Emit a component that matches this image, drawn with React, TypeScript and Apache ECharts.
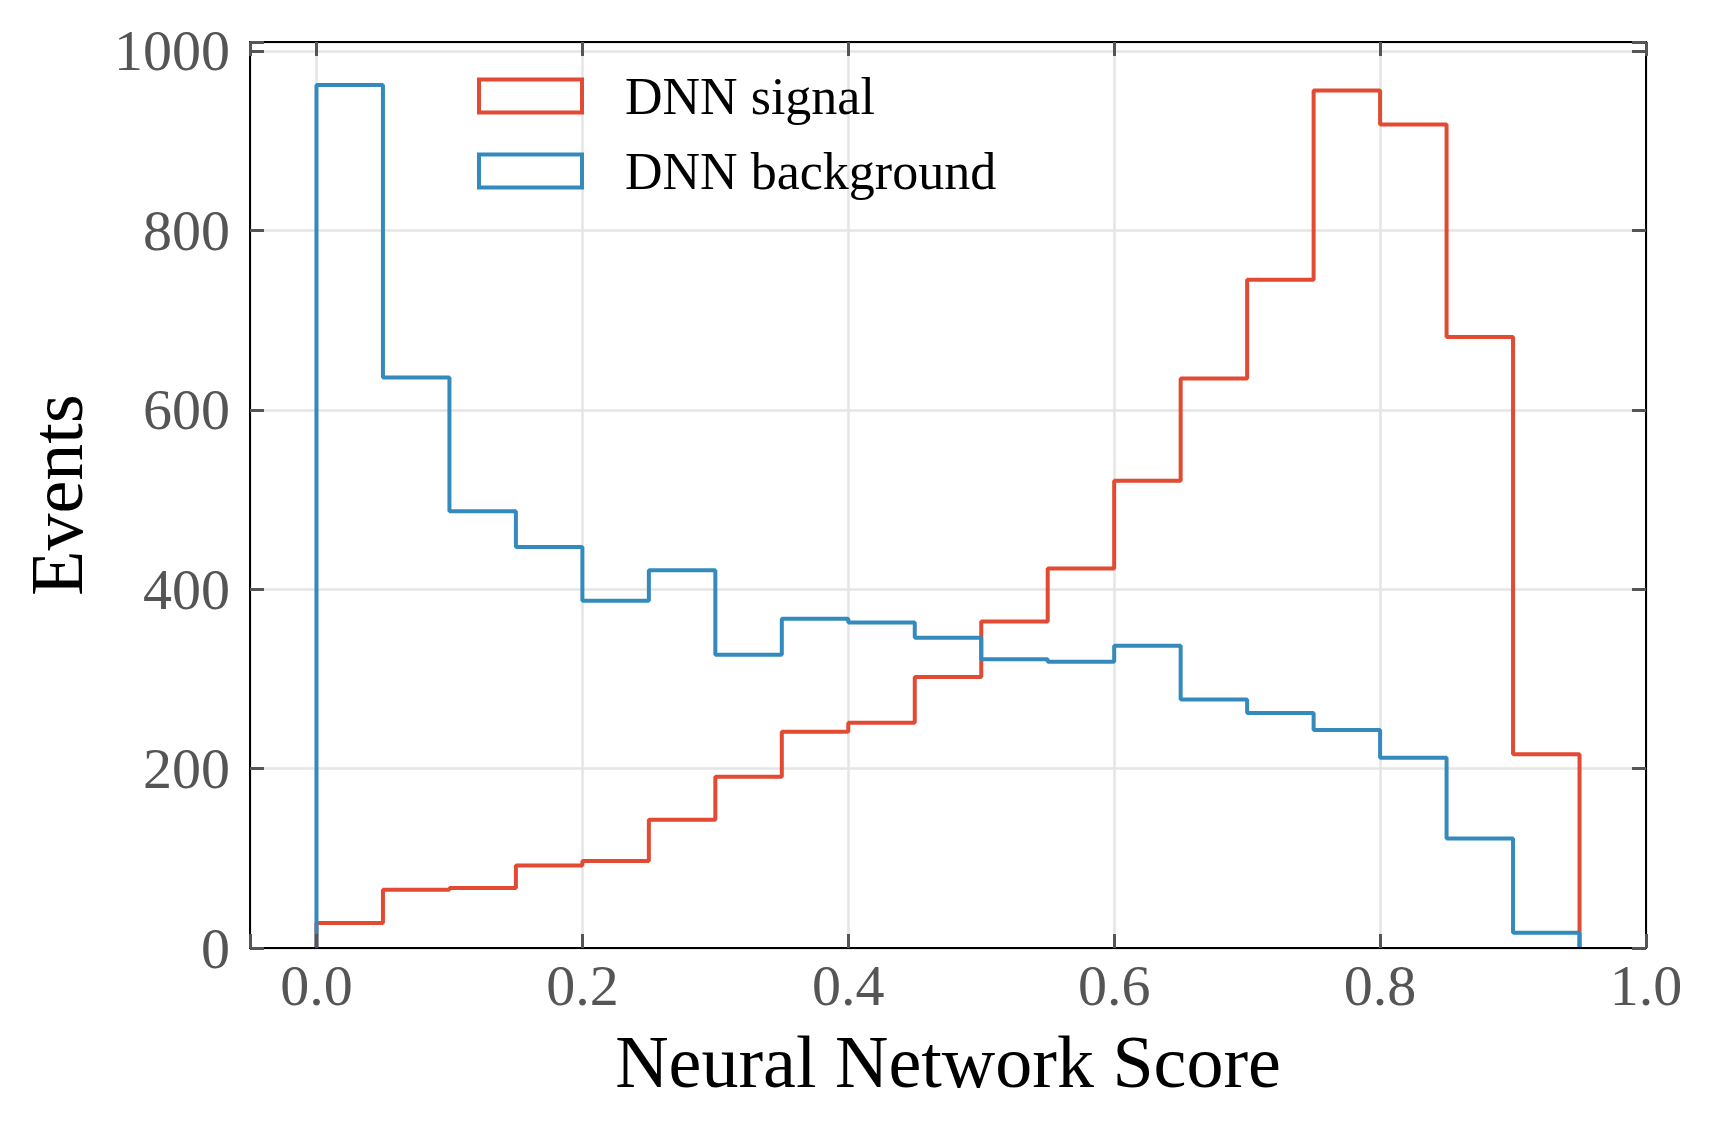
import React, { useEffect, useRef } from "react";
import * as echarts from "echarts";

const binEdges = [0.0, 0.05, 0.1, 0.15, 0.2, 0.25, 0.3, 0.35, 0.4, 0.45, 0.5, 0.55, 0.6, 0.65, 0.7, 0.75, 0.8, 0.85, 0.9, 0.95];
const signalCounts = [28, 65, 67, 92, 97, 143, 191, 241, 251, 302, 364, 423, 521, 635, 745, 956, 918, 681, 216];
const backgroundCounts = [962, 636, 487, 447, 387, 421, 327, 367, 363, 346, 322, 319, 337, 277, 262, 243, 212, 122, 17];
const seriesNames = ["DNN signal", "DNN background"];
const xTickLabels = ["0.0", "0.2", "0.4", "0.6", "0.8", "1.0"];
const yTickLabels = ["0", "200", "400", "600", "800", "1000"];

const RED = "#E24A33";
const BLUE = "#348ABD";
const FONT = "'Liberation Serif', 'Times New Roman', serif";

function stepPath(counts: number[]): number[][] {
  const pts: number[][] = [];
  const last = binEdges.length - 1;
  pts.push([binEdges[0], 0]);
  for (let i = 0; i < counts.length; i++) {
    pts.push([binEdges[i], counts[i]]);
    pts.push([i < last ? binEdges[i + 1] : binEdges[last], counts[i]]);
  }
  pts.push([binEdges[last], 0]);
  return pts;
}

export default function App() {
  const ref = useRef<HTMLDivElement>(null);
  useEffect(() => {
    document.body.style.margin = "0";
    if (!ref.current) return;
    const chart = echarts.init(ref.current, undefined, { renderer: "svg" });
    const xFmt = (v: number) => {
      const k = v * 5;
      if (Math.abs(k - Math.round(k)) > 1e-6) return "";
      const s = v.toFixed(1);
      return xTickLabels.includes(s) ? s : "";
    };
    const yFmt = (v: number) => {
      const s = String(Math.round(v));
      return Math.abs(v - Math.round(v)) < 1e-6 && yTickLabels.includes(s) ? s : "";
    };
    const tick = { show: true, inside: true, length: 14, lineStyle: { color: "#555", width: 3 } };
    const frameLine = { show: true, onZero: false, lineStyle: { color: "#000", width: 2 } };
    const xBase = { type: "value", min: -0.05, max: 1.0, splitNumber: 5 };
    const yBase = { type: "value", min: 0, max: 1010, interval: 200 };
    chart.setOption({
      animation: false,
      backgroundColor: "#fff",
      grid: { left: 250, top: 42, width: 1396, height: 906, containLabel: false },
      xAxis: [
        {
          ...xBase,
          position: "bottom",
          z: 3,
          axisLine: frameLine,
          axisTick: tick,
          splitLine: { show: false },
          axisLabel: { show: true, margin: 8, fontSize: 58, fontFamily: FONT, color: "#555", formatter: xFmt, showMinLabel: true, showMaxLabel: true },
          name: "Neural Network Score",
          nameLocation: "middle",
          nameGap: 77,
          nameTextStyle: { fontSize: 74, fontFamily: FONT, color: "#000" },
        },
        {
          ...xBase,
          position: "top",
          z: 3,
          axisLine: frameLine,
          axisTick: tick,
          splitLine: { show: false },
          axisLabel: { show: false },
        },
        {
          ...xBase,
          position: "bottom",
          z: 0,
          axisLine: { show: false },
          axisTick: { show: false },
          axisLabel: { show: false },
          splitLine: { show: true, lineStyle: { color: "#E5E5E5", width: 2.5 } },
        },
      ],
      yAxis: [
        {
          ...yBase,
          position: "left",
          z: 3,
          axisLine: frameLine,
          axisTick: tick,
          splitLine: { show: false },
          axisLabel: { show: true, margin: 20, fontSize: 58, fontFamily: FONT, color: "#555", formatter: yFmt },
          name: "Events",
          nameLocation: "middle",
          nameGap: 156,
          nameRotate: 90,
          nameTextStyle: { fontSize: 74, fontFamily: FONT, color: "#000" },
        },
        {
          ...yBase,
          position: "right",
          z: 3,
          axisLine: frameLine,
          axisTick: tick,
          splitLine: { show: false },
          axisLabel: { show: false },
        },
        {
          ...yBase,
          position: "left",
          z: 0,
          axisLine: { show: false },
          axisTick: { show: false },
          axisLabel: { show: false },
          splitLine: { show: true, lineStyle: { color: "#E5E5E5", width: 2.5 } },
        },
      ],
      legend: {
        left: 472,
        top: 65,
        orient: "vertical",
        icon: "rect",
        itemWidth: 103,
        itemHeight: 33,
        itemGap: 23,
        selectedMode: false,
        textStyle: { fontSize: 52, fontFamily: FONT, color: "#000", lineHeight: 34, padding: [0, 0, 0, 38] },
        data: [
          { name: seriesNames[0], itemStyle: { color: "rgba(0,0,0,0)", borderColor: RED, borderWidth: 4 } },
          { name: seriesNames[1], itemStyle: { color: "rgba(0,0,0,0)", borderColor: BLUE, borderWidth: 4 } },
        ],
      },
      series: [
        {
          name: seriesNames[0],
          type: "line",
          xAxisIndex: 0,
          yAxisIndex: 0,
          data: stepPath(signalCounts),
          showSymbol: false,
          symbol: "none",
          lineStyle: { color: RED, width: 4 },
          itemStyle: { color: RED },
          z: 2,
        },
        {
          name: seriesNames[1],
          type: "line",
          xAxisIndex: 0,
          yAxisIndex: 0,
          data: stepPath(backgroundCounts),
          showSymbol: false,
          symbol: "none",
          lineStyle: { color: BLUE, width: 4 },
          itemStyle: { color: BLUE },
          z: 2,
        },
      ],
    });
    return () => chart.dispose();
  }, []);
  return <div ref={ref} style={{ width: 1713, height: 1131 }} />;
}
